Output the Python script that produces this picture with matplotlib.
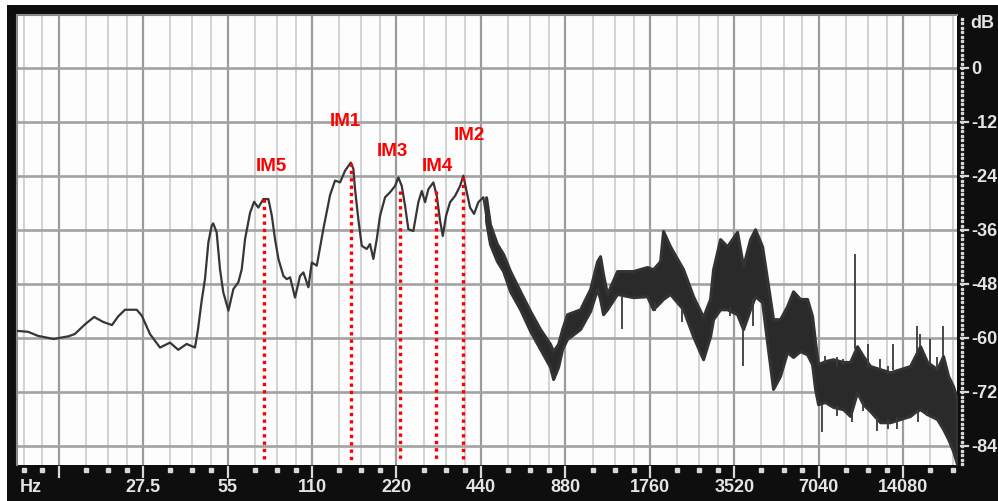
import matplotlib
matplotlib.use('Agg')
import matplotlib.pyplot as plt
from matplotlib.patches import Rectangle
from matplotlib.transforms import blended_transform_factory
import numpy as np

# spectrum trace below ~480 Hz (single line)
trace_hz = [9.8, 10.7, 11.6, 13.2, 14.9, 15.7, 17.1, 18.4, 19.8, 21.3, 22.4, 23.7, 26.1, 27.2,
            29.1, 31.6, 34.3, 36.7, 39.3, 42.1, 43.1, 44.5, 45.7, 47.0, 48.3, 48.9, 50.3, 51.7,
            53.1, 55.4, 57.7, 60.1, 61.8, 63.5, 66.2, 68.4, 70.8, 73.8, 76.9, 79.1, 81.2, 83.5,
            87.0, 89.4, 91.9, 95.7, 99.7, 102.5, 106.8, 109.8, 114.4, 120.7, 127.6, 132.9, 138.5,
            144.3, 151.2, 154.5, 156.6, 160.9, 165.5, 172.4, 177.1, 182.0, 187.2, 192.3, 200.4,
            208.7, 217.5, 223.5, 229.8, 236.1, 242.6, 252.7, 263.3, 270.8, 278.2, 285.9, 297.9,
            306.3, 314.7, 321.8, 330.6, 341.6, 356.0, 370.8, 381.0, 391.8, 402.6, 416.0, 430.9,
            449.0, 461.7, 474.4]
trace_db = [-58.4, -58.6, -59.5, -60.2, -59.6, -59.1, -56.9, -55.3, -56.4, -57.1, -55.2, -53.7, -53.7, -55.0,
            -59.1, -62.1, -61.0, -62.6, -61.3, -62.1, -58.3, -51.6, -46.9, -38.7, -35.0, -34.5, -36.5, -44.7,
            -49.8, -53.9, -49.1, -47.6, -44.7, -38.0, -32.1, -29.7, -31.0, -29.1, -29.1, -32.8, -38.0, -42.4,
            -46.2, -46.9, -46.5, -51.0, -46.2, -45.4, -48.7, -43.2, -43.9, -35.8, -28.2, -25.0, -25.4,
            -22.8, -21.0, -22.4, -26.9, -33.6, -39.5, -40.2, -39.1, -42.4, -38.0, -32.8, -28.7,
            -27.6, -26.2, -24.3, -26.2, -30.6, -35.8, -36.2, -29.8, -27.3, -29.8, -26.9, -25.4,
            -28.4, -33.9, -37.3, -32.8, -29.8, -28.4, -26.2, -23.9, -27.6, -31.0, -32.4, -29.8,
            -28.7, -33.6, -37.3]

# noisy part above ~460 Hz: upper / lower envelope of the dense band
band_hz = [459, 474, 502, 528, 559, 607, 659, 715, 776, 796, 829, 857, 892, 993, 1078, 1142,
           1170, 1199, 1239, 1345, 1534, 1721, 1807, 1915, 1962, 2078, 2313, 2510, 2725, 2886,
           2958, 3133, 3318, 3602, 3784, 4007, 4175, 4423, 4608, 4839, 5126, 5430, 5703, 6041,
           6398, 6666, 6832, 7002, 7416, 7919, 8598, 9106, 9645, 10130, 10729, 11648, 12645,
           13726, 14902, 15526, 16177, 17133, 18596, 19536, 20356, 21208, 21900]
band_top_db = [-28.7, -34.7, -39.1, -41.3, -45.1, -49.6, -54.0, -58.0, -61.3, -62.9, -61.3, -58.0, -54.7,
               -53.6, -49.1, -42.9, -41.8, -45.8, -50.2, -45.1, -45.1, -44.2, -44.7, -42.9, -36.2,
               -39.6, -44.7, -50.7, -55.3, -51.3, -44.7, -38.0, -39.6, -36.4, -44.0, -38.0, -35.8,
               -39.6, -46.9, -55.8, -55.8, -52.9, -49.6, -51.3, -51.3, -55.1, -60.9, -65.8, -65.1,
               -64.7, -65.3, -65.3, -61.8, -64.0, -66.2, -66.9, -67.6, -66.9, -66.2, -64.0, -61.8,
               -65.3, -66.9, -64.0, -68.4, -70.7, -73.6]
band_bot_db = [-34.0, -39.1, -42.9, -45.1, -49.6, -53.6, -58.4, -62.4, -66.4, -69.1, -66.4, -62.4, -60.2,
               -58.0, -54.0, -49.1, -51.3, -54.7, -53.6, -50.2, -50.9, -50.7, -53.6, -52.0, -51.3,
               -50.2, -53.6, -59.6, -64.7, -59.6, -55.8, -53.6, -53.6, -54.7, -58.0, -53.6, -50.7,
               -52.0, -60.9, -71.3, -68.4, -63.1, -64.2, -62.9, -63.6, -65.8, -71.3, -74.7, -74.2,
               -75.3, -75.8, -77.3, -72.0, -74.7, -76.2, -78.7, -78.7, -78.0, -77.3, -76.4, -75.8,
               -76.9, -78.0, -80.2, -82.4, -85.1, -88.0]

# single thin spikes sticking out of the band
spike_hz = [9488, 15780, 19536, 12958, 10554, 11648, 17562, 7416, 8184, 8598, 12441, 18596, 16177,
            7236, 9256, 11364, 13393, 8184, 10130, 12441, 15912, 17133,
            3784, 4107, 1401, 1838, 2293, 3400]
spike_tip_db = [-41.3, -57.3, -57.3, -61.3, -61.3, -64.7, -60.2, -64.0, -64.2, -64.7, -66.2, -64.2, -59.1,
                -80.9, -78.7, -80.7, -80.2, -77.3, -76.2, -80.2, -78.7, -77.3,
                -66.2, -57.3, -58.0, -54.0, -56.4, -55.1]
spike_base_db = [-62.4, -64.0, -64.0, -67.1, -66.4, -67.1, -65.8, -65.8, -66.4, -66.0, -68.0, -67.0, -62.0,
                 -74.7, -75.8, -77.6, -77.6, -75.0, -74.0, -78.0, -76.0, -76.0,
                 -56.9, -51.3, -50.9, -52.0, -53.0, -53.0]

# intermodulation markers
im_names = ['IM5', 'IM1', 'IM3', 'IM4', 'IM2']
im_hz = [74.2, 151.6, 226.6, 304.5, 380.1]
im_peak_db = [-29.1, -21.0, -27.3, -27.3, -24.3]
im_label_hz = [78.5, 145.2, 212.6, 307.0, 399.9]
im_label_db = [-21.7, -11.7, -18.4, -21.7, -14.7]

freq_labels = ['27.5', '55', '110', '220', '440', '880', '1760', '3520', '7040', '14080']
freq_label_hz = [27.5, 55, 110, 220, 440, 880, 1760, 3520, 7040, 14080]
db_ticks = [0, -12, -24, -36, -48, -60, -72, -84]

W, H = 998, 502
fig = plt.figure(figsize=(W / 100, H / 100), dpi=100)
fig.patch.set_facecolor('white')
# black frame around the display
fig.add_artist(Rectangle((7 / W, 0), 1 - 7 / W, 1 - 6 / H, transform=fig.transFigure,
                         facecolor='#0e0e0e', edgecolor='none', zorder=0))

ax = fig.add_axes([17 / W, 36 / H, 940 / W, 450 / H])
ax.set_facecolor('#fdfdfd')
ax.set_xscale('log')
ax.set_xlim(9.77, 21900)
ax.set_ylim(-88.2, 11.8)
ax.set_xticks([])
ax.set_yticks([])
ax.minorticks_off()
for s in ax.spines.values():
    s.set_visible(False)
# soft shadow along the inner top / left edge
ax.spines['left'].set_visible(True)
ax.spines['left'].set_color('#8a8a8a')
ax.spines['left'].set_linewidth(1.5)
ax.spines['top'].set_visible(True)
ax.spines['top'].set_color('#8a8a8a')
ax.spines['top'].set_linewidth(1.5)

# grid: octaves (dark) + 1.25/1.5/1.75 subdivisions (light)
octaves = [13.75 * 2 ** k for k in range(-1, 11)]
minor = [o * m for o in octaves for m in (1.25, 1.5, 1.75)]
minor = [m for m in minor if 9.77 < m < 21900]
majors = [o for o in octaves if 9.77 < o < 21900]
for m in minor:
    ax.axvline(m, color='#cfcfcf', lw=1.3, zorder=1)
for o in majors:
    ax.axvline(o, color='#9c9c9c', lw=1.6, zorder=1)
for d in db_ticks:
    ax.axhline(d, color='#a2a2a2', lw=1.9, zorder=1)

# spectrum
ax.plot(trace_hz, trace_db, color='#363636', lw=1.6, zorder=3)
ax.fill_between(band_hz, band_bot_db, band_top_db, color='#2a2a2a', lw=2.2,
                edgecolor='#333333', zorder=3)
ax.vlines(spike_hz, spike_base_db, spike_tip_db, color='#3a3a3a', lw=1.3, zorder=3)

# IM markers
for name, f, pk, lf, ld in zip(im_names, im_hz, im_peak_db, im_label_hz, im_label_db):
    ax.plot([f, f], [pk, -87.0], color='#ff0000', lw=2.4, ls=(0, (1, 1.2)), zorder=4)
    ax.text(lf, ld, name, color='#ff0000', fontsize=13.5, fontweight='bold',
            family=['Liberation Sans', 'DejaVu Sans'], ha='center', va='center', zorder=5)

# bottom scale (frequency)
bx = blended_transform_factory(ax.transData, fig.transFigure)
tick_col = '#d8d8d8'
ax.plot(minor, [31 / H] * len(minor), ls='none', marker='s', ms=2.2, color=tick_col,
        transform=bx, clip_on=False)
for o in majors:
    ax.plot([o, o], [24 / H, 34 / H], color=tick_col, lw=1.6, transform=bx, clip_on=False)
lab_font = ['Liberation Sans Narrow', 'Liberation Sans', 'DejaVu Sans']
for lab, f in zip(freq_labels, freq_label_hz):
    ax.text(f, 14 / H, lab, transform=bx, ha='center', va='center', color='#e4e4e4',
            fontsize=13, fontweight='bold', family=lab_font)
fig.text(31 / W, 14 / H, 'Hz', ha='center', va='center', color='#e4e4e4',
         fontsize=13, fontweight='bold', family=lab_font)

# right scale (dB)
ry = blended_transform_factory(fig.transFigure, ax.transData)
dots = np.arange(-88, 12, 1)
ax.plot([962 / W] * len(dots), dots, ls='none', marker='s', ms=1.6, color=tick_col,
        transform=ry, clip_on=False)
for d in db_ticks:
    ax.plot([961 / W, 968 / W], [d, d], color=tick_col, lw=1.6, transform=ry, clip_on=False)
    ax.text(971 / W, d, str(d), transform=ry, ha='left', va='center', color='#e4e4e4',
            fontsize=13, fontweight='bold', family=lab_font)
ax.text(970 / W, 10.2, 'dB', transform=ry, ha='left', va='center', color='#e4e4e4',
        fontsize=13, fontweight='bold', family=lab_font)

fig.savefig('out.png', dpi=100, facecolor=fig.get_facecolor())
